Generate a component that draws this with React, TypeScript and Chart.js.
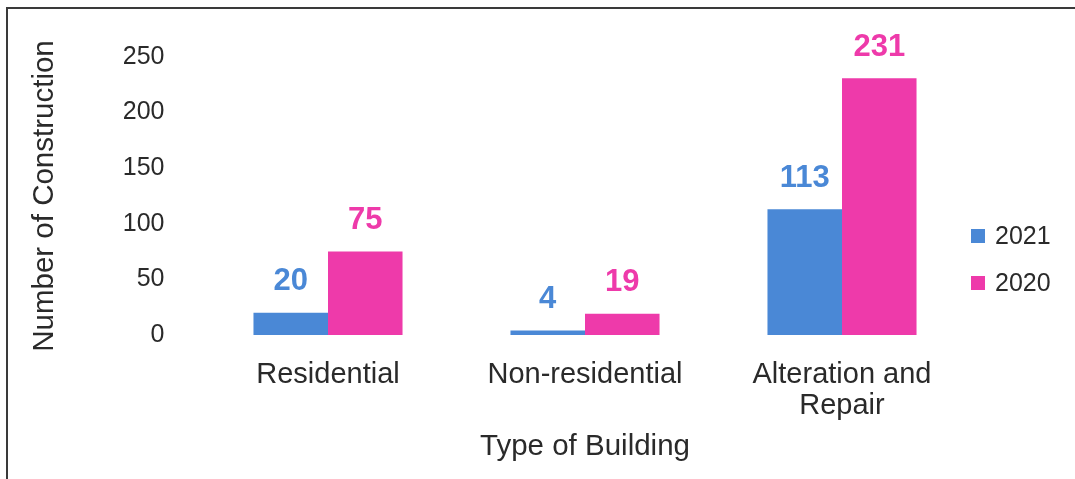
import React, { useEffect, useRef } from "react";
import { Chart, registerables } from "chart.js";

Chart.register(...registerables);

const categories: (string | string[])[] = ["Residential", "Non-residential", ["Alteration and", "Repair"]];
const seriesNames = ["2021", "2020"];
const values2021 = [20, 4, 113];
const values2020 = [75, 19, 231];
const yTicks = [0, 50, 100, 150, 200, 250];

const BLUE = "#4a88d6";
const PINK = "#ee3aaa";
const TEXT = "#2a2a2a";
const FONT = "'Liberation Sans', Arial, sans-serif";

const frameAndLabels = {
  id: "frameAndLabels",
  beforeDraw(chart: any) {
    const ctx = chart.ctx;
    ctx.save();
    ctx.fillStyle = "#ffffff";
    ctx.fillRect(0, 0, chart.width, chart.height);
    ctx.strokeStyle = "#3a3a3a";
    ctx.lineWidth = 2;
    ctx.beginPath();
    ctx.moveTo(7, chart.height);
    ctx.lineTo(7, 8);
    ctx.lineTo(chart.width, 8);
    ctx.stroke();
    ctx.restore();
  },
  afterDatasetsDraw(chart: any) {
    const ctx = chart.ctx;
    ctx.save();
    ctx.font = `bold 31px ${FONT}`;
    ctx.textAlign = "center";
    ctx.textBaseline = "middle";
    chart.data.datasets.forEach((ds: any, i: number) => {
      const meta = chart.getDatasetMeta(i);
      meta.data.forEach((bar: any, j: number) => {
        ctx.fillStyle = ds.backgroundColor;
        ctx.fillText(String(ds.data[j]), bar.x, bar.y - 31);
      });
    });
    // legend
    ctx.font = `25px ${FONT}`;
    ctx.textAlign = "left";
    const legendY = [236, 283];
    chart.data.datasets.forEach((ds: any, i: number) => {
      ctx.fillStyle = ds.backgroundColor;
      ctx.fillRect(971, legendY[i] - 7, 14, 14);
      ctx.fillStyle = TEXT;
      ctx.fillText(ds.label, 995, legendY[i] + 1);
    });
    ctx.restore();
  },
};

export default function App() {
  const ref = useRef<HTMLCanvasElement>(null);
  useEffect(() => {
    if (!ref.current) return;
    const chart = new Chart(ref.current, {
      type: "bar",
      data: {
        labels: categories,
        datasets: [
          { label: seriesNames[0], data: values2021, backgroundColor: BLUE, categoryPercentage: 0.58, barPercentage: 1 },
          { label: seriesNames[1], data: values2020, backgroundColor: PINK, categoryPercentage: 0.58, barPercentage: 1 },
        ],
      },
      options: {
        responsive: false,
        animation: false,
        devicePixelRatio: 1,
        layout: { padding: { left: 0, top: 57, right: 104.5, bottom: 0 } },
        plugins: { legend: { display: false }, tooltip: { enabled: false } },
        scales: {
          x: {
            grid: { display: false },
            border: { display: false },
            ticks: {
              color: TEXT,
              font: { family: FONT, size: 29, lineHeight: 1.07 },
              padding: 16,
              maxRotation: 0,
              autoSkip: false,
            },
            title: {
              display: true,
              text: "Type of Building",
              color: TEXT,
              font: { family: FONT, size: 29.5, lineHeight: 1.2 },
              padding: { top: 0, bottom: 14 },
            },
            afterFit(scale: any) {
              scale.height = 144;
            },
          },
          y: {
            min: 0,
            max: 250,
            grid: { display: false },
            border: { display: false },
            afterBuildTicks(scale: any) {
              scale.ticks = yTicks.map((v) => ({ value: v }));
            },
            ticks: {
              color: TEXT,
              font: { family: FONT, size: 25 },
              padding: 27,
            },
            title: {
              display: true,
              text: "Number of Construction",
              color: TEXT,
              font: { family: FONT, size: 29.5, lineHeight: 1.2 },
              padding: { top: 27, bottom: 0 },
            },
            afterFit(scale: any) {
              scale.width = 199.5;
            },
          },
        },
      },
      plugins: [frameAndLabels],
    });
    return () => chart.destroy();
  }, []);
  return (
    <div style={{ position: "fixed", left: 0, top: 0, width: 1075, height: 479, background: "#fff" }}>
      <canvas ref={ref} width={1075} height={479} style={{ display: "block" }} />
    </div>
  );
}
